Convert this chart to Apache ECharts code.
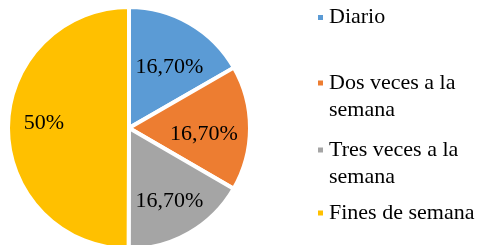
<!DOCTYPE html>
<html>
<head>
<meta charset="utf-8">
<script src="https://cdn.jsdelivr.net/npm/echarts@6/dist/echarts.min.js"></script>
<style>html,body{margin:0;padding:0;background:#fff}#c{width:482px;height:245px}</style>
</head>
<body>
<div id="c"></div>
<script>
const categories = ['Diario', 'Dos veces a la semana', 'Tres veces a la semana', 'Fines de semana'];
const legendLabels = ['Diario', 'Dos veces a la\nsemana', 'Tres veces a la\nsemana', 'Fines de semana'];
const values = [16.7, 16.7, 16.7, 50];
const valueLabels = ['16,70%', '16,70%', '16,70%', '50%'];
const colors = ['#5B9BD5', '#ED7D31', '#A5A5A5', '#FFC000'];

const FONT = '"Liberation Serif", "Times New Roman", serif';
const labelOffsets = [[0, 9], [-6, 6], [0, 3], [-4, -5]];
const chart = echarts.init(document.getElementById('c'));

const data = categories.map((n, i) => ({ name: n, value: values[i], itemStyle: { color: colors[i] } }));
const labelData = categories.map((n, i) => ({ name: n, value: values[i], label: { formatter: valueLabels[i], offset: labelOffsets[i] } }));

const legendTextStyle = { fontFamily: FONT, fontSize: 22, color: '#000', lineHeight: 27, fontWeight: 'normal' };
const legendTops = [4, 42.5, 109.5, 199.5];
const legends = categories.map((n, i) => {
  const two = legendLabels[i].indexOf('\n') >= 0;
  const txt = (two ? '\n' : '') + legendLabels[i];
  return {
    data: [{ name: n, textStyle: legendTextStyle }],
    orient: 'vertical',
    left: 316,
    top: legendTops[i],
    padding: 0,
    itemWidth: 7,
    itemHeight: 7,
    icon: 'rect',
    selectedMode: false,
    formatter: () => txt,
    textStyle: legendTextStyle
  };
});

chart.setOption({
  animation: false,
  textStyle: { fontFamily: FONT },
  legend: legends,
  series: [
    {
      type: 'pie',
      center: [129, 128],
      radius: [0, 121],
      startAngle: 90,
      clockwise: true,
      data: data,
      label: { show: false },
      labelLine: { show: false },
      itemStyle: { borderColor: '#fff', borderWidth: 4 },
      emphasis: { disabled: true }
    },
    {
      type: 'pie',
      center: [129, 128],
      radius: [0, 156],
      startAngle: 90,
      clockwise: true,
      silent: true,
      data: labelData,
      itemStyle: { color: 'rgba(0,0,0,0)' },
      label: { show: true, position: 'inside', fontFamily: FONT, fontSize: 22, color: '#000' },
      labelLine: { show: false },
      emphasis: { disabled: true },
      legendHoverLink: false
    }
  ]
});
</script>
</body>
</html>
